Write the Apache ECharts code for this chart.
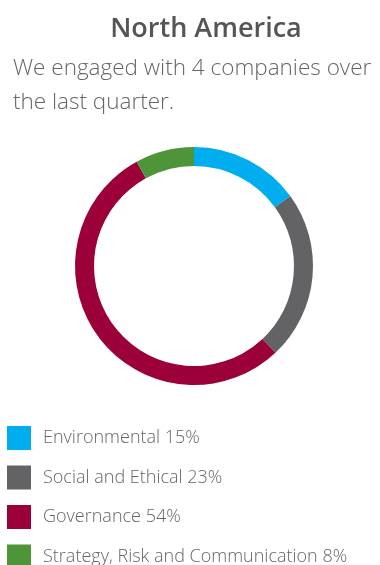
<!DOCTYPE html>
<html>
<head>
<meta charset="utf-8">
<script src="https://cdn.jsdelivr.net/npm/echarts@6/dist/echarts.min.js"></script>
<style>
html,body{margin:0;padding:0;background:#fff;}
#chart{width:380px;height:565px;}
</style>
</head>
<body>
<div id="chart"></div>
<script>
var categories = ['Environmental', 'Social and Ethical', 'Governance', 'Strategy, Risk and Communication'];
var values = [15, 23, 54, 8];
var colors = ['#00aeef', '#636365', '#9b0038', '#4e9438'];

var pieData = [];
for (var i = 0; i < categories.length; i++) {
    pieData.push({name: categories[i], value: values[i], itemStyle: {color: colors[i]}});
}

var myChart = echarts.init(document.getElementById('chart'));
var option = {
    animation: false,
    title: [
        {
            text: 'North America',
            left: 206, top: 16, textAlign: 'center', padding: 0,
            textStyle: {fontFamily: 'Open Sans', fontSize: 27, fontWeight: 600, color: '#555555'}
        },
        {
            text: 'We engaged with 4 companies over\nthe last quarter.',
            left: 13, top: 52, padding: 0,
            textStyle: {fontFamily: 'Open Sans', fontSize: 22.5, fontWeight: 300, color: '#666666', lineHeight: 34}
        }
    ],
    legend: {
        orient: 'vertical',
        left: 7, top: 426, height: 200, padding: 0,
        icon: 'rect',
        itemWidth: 24, itemHeight: 24, itemGap: 15.5,
        selectedMode: false,
        formatter: function (name) {
            return name + ' ' + values[categories.indexOf(name)] + '%';
        },
        textStyle: {fontFamily: 'Open Sans', fontSize: 18, fontWeight: 300, color: '#666666', padding: [0, 0, 0, 7]}
    },
    series: [{
        type: 'pie',
        center: [194, 266],
        radius: [100, 119],
        startAngle: 90,
        clockwise: true,
        label: {show: false},
        labelLine: {show: false},
        emphasis: {disabled: true},
        itemStyle: {borderWidth: 0},
        data: pieData
    }]
};
myChart.setOption(option);
</script>
</body>
</html>
